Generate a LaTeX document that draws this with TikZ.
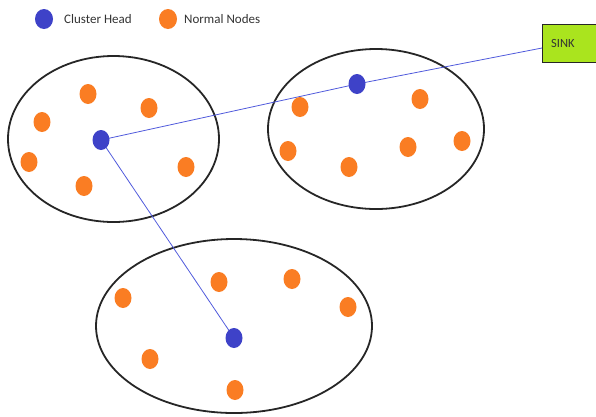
\documentclass[tikz,border=0pt]{standalone}
\usepackage{fontspec}
\setmainfont{Carlito}
\usetikzlibrary{shapes.geometric}
\definecolor{chblue}{RGB}{62,66,200}
\definecolor{nnorange}{RGB}{250,125,35}
\definecolor{linkblue}{RGB}{80,90,220}
\definecolor{sinkgreen}{RGB}{170,228,30}
\begin{document}
\begin{tikzpicture}[x=1pt,y=-1pt,
  cluster/.style={draw=black!85,line width=1.8pt,ellipse,inner sep=0pt},
  chdot/.style={fill=chblue,ellipse,inner sep=0pt,minimum width=17pt,minimum height=20pt},
  nndot/.style={fill=nnorange,ellipse,inner sep=0pt,minimum width=17pt,minimum height=20pt},
  link/.style={draw=linkblue,line width=0.8pt},
  legendtext/.style={anchor=west,inner sep=0pt,font=\fontsize{13}{15}\selectfont,text=black!80},
  sinkbox/.style={draw=black!85,line width=1.4pt,fill=sinkgreen,anchor=north west,minimum width=60pt,minimum height=38pt,inner sep=0pt}
]
\useasboundingbox (0,0) rectangle (596,416);
% legend
\node[chdot,minimum width=18pt] (lch) at (44,19) {};
\node[legendtext] (lcht) at (64,19) {Cluster Head};
\node[nndot,minimum width=18pt] (lnn) at (168,19) {};
\node[legendtext] (lnnt) at (184,19) {Normal Nodes};
% sink
\node[sinkbox] (sink) at (542,24) {};
\node[anchor=west,inner sep=0pt,font=\fontsize{12.5}{14}\selectfont,text=black!80] (sinkt) at (551,43) {SINK};
% clusters
\node[cluster,minimum width=211pt,minimum height=166pt] (c1) at (113.5,139) {};
\node[cluster,minimum width=216pt,minimum height=160pt] (c2) at (376,129) {};
\node[cluster,minimum width=276pt,minimum height=174pt] (c3) at (234,326) {};
% links (behind dots)
\coordinate (h1) at (101,140);
\coordinate (h2) at (357,84);
\coordinate (h3) at (234,338);
\draw[link] (h1) -- (h2);
\draw[link] (h2) -- (sink.west |- 0,48);
\draw[link] (h1) -- (h3);
% cluster 1
\node[chdot] (ch1) at (h1) {};
\node[nndot] (n11) at (88,94) {};
\node[nndot] (n12) at (149,108) {};
\node[nndot] (n13) at (42,122) {};
\node[nndot] (n14) at (29,162) {};
\node[nndot] (n15) at (186,167) {};
\node[nndot] (n16) at (84,186) {};
% cluster 2
\node[chdot] (ch2) at (h2) {};
\node[nndot] (n21) at (300,107) {};
\node[nndot] (n22) at (420,99) {};
\node[nndot] (n23) at (288,151) {};
\node[nndot] (n24) at (349,167) {};
\node[nndot] (n25) at (408,147) {};
\node[nndot] (n26) at (462,141) {};
% cluster 3
\node[chdot] (ch3) at (h3) {};
\node[nndot] (n31) at (123,298) {};
\node[nndot] (n32) at (219,282) {};
\node[nndot] (n33) at (292,279) {};
\node[nndot] (n34) at (348,307) {};
\node[nndot] (n35) at (150,359) {};
\node[nndot] (n36) at (235,390) {};
\end{tikzpicture}
\end{document}
